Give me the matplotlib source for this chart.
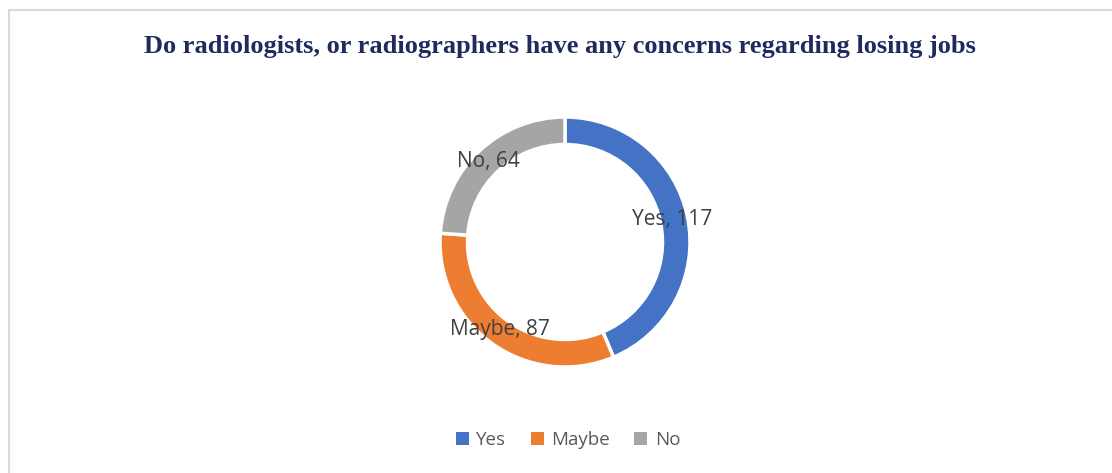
import matplotlib
matplotlib.use("Agg")
import matplotlib.pyplot as plt
from matplotlib.patches import Rectangle, Patch

categories = ["Yes", "Maybe", "No"]
values = [117, 87, 64]
colors = ["#4472C4", "#ED7D31", "#A5A5A5"]
title = "Do radiologists, or radiographers have any concerns regarding losing jobs"

W, H = 1112, 473
fig = plt.figure(figsize=(W / 100, H / 100), dpi=100)
fig.patch.set_facecolor("white")

# chart area border
fig.patches.append(Rectangle((9 / W, -0.1), 1.2, (H - 10) / H + 0.1, transform=fig.transFigure,
                             fill=False, edgecolor="#D9D9D9", linewidth=1.5))

cx, cy, r = 565, H - 242, 125
ax = fig.add_axes([(cx - r) / W, (cy - r) / H, 2 * r / W, 2 * r / H])
wedges, _ = ax.pie(values, colors=colors, startangle=90, counterclock=False, radius=1,
                   wedgeprops=dict(width=0.22, edgecolor="white", linewidth=2.5))
ax.set_xlim(-1, 1)
ax.set_ylim(-1, 1)
ax.set_aspect("equal")
ax.axis("off")

label_pos = [(0.86, 0.176), (-0.52, -0.70), (-0.61, 0.64)]
for cat, v, (x, y) in zip(categories, values, label_pos):
    ax.text(x, y, f"{cat}, {v}", ha="center", va="center", fontsize=15,
            family="Open Sans", color="#404040")

fig.text(560 / W, 1 - 47 / H, title, ha="center", va="center", fontsize=19,
         family="Liberation Serif", fontweight="bold", color="#1F2A5E")

handles = [Patch(facecolor=c, edgecolor="none") for c in colors]
fig.legend(handles, categories, loc="center", bbox_to_anchor=(568 / W, 1 - 440 / H), ncol=3,
           frameon=False, prop=dict(family="Open Sans", size=13.5), labelcolor="#595959",
           handlelength=0.7, handleheight=0.7, handletextpad=0.4, columnspacing=1.3)

fig.savefig("out.png", dpi=100, facecolor="white")
